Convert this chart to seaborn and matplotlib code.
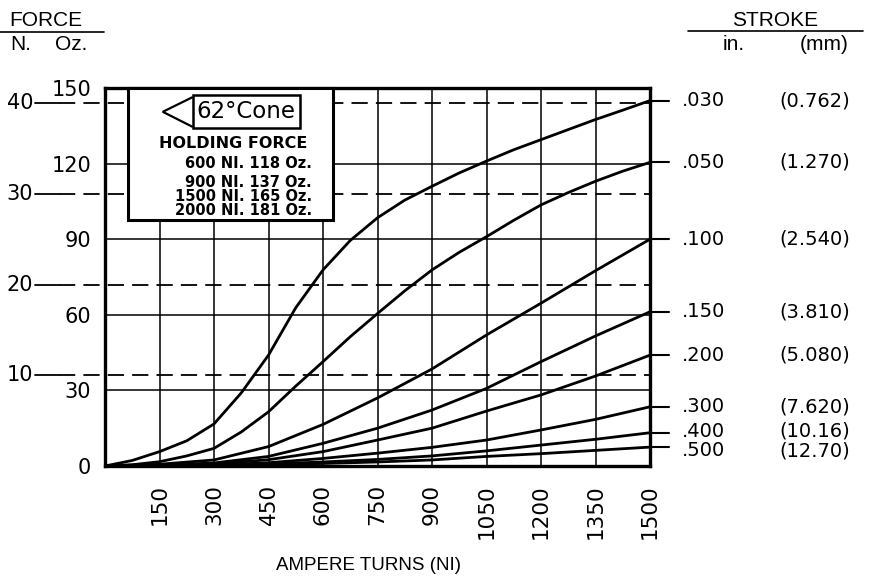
import numpy as np
import pandas as pd
import matplotlib
matplotlib.use("Agg")
import matplotlib.pyplot as plt
from matplotlib.patches import Rectangle, Polygon
from matplotlib.lines import Line2D
import seaborn as sns

# ---------------- data ----------------
ni_fine = [0, 75, 150, 225, 300, 375, 450, 525, 600, 675, 750, 825, 900, 975,
           1050, 1125, 1200, 1275, 1350, 1425, 1500]
ni_coarse = [0, 150, 300, 450, 600, 750, 900, 1050, 1200, 1350, 1500]

force_030 = [0, 2.2, 5.7, 10, 16.7, 29, 44, 62.8, 77.8, 89.5, 98.5, 105.5, 111,
             116.3, 121, 125.5, 129.5, 133.5, 137.5, 141.2, 145]
force_050 = [0, 0.5, 1.7, 4, 7, 13.5, 21.5, 31.7, 41.4, 51.3, 60.5, 69.5, 77.8,
             84.8, 91, 97.5, 103.6, 108.5, 113, 117, 120.5]
force_100 = [0, 0.7, 2.4, 7.7, 16.5, 27, 38.5, 52, 64.6, 77.5, 90]
force_150 = [0, 0.3, 1.2, 3.8, 9, 15, 22.2, 30.8, 41.4, 51.6, 61.2]
force_200 = [0, 0.2, 0.8, 2.5, 5.7, 10.3, 15, 21.8, 28.2, 35.7, 44]
force_300 = [0, 0.1, 0.4, 1.3, 3, 5.1, 7.4, 10.3, 14.3, 18.5, 23.5]
force_400 = [0, 0.05, 0.2, 0.8, 1.6, 2.6, 4.0, 6.0, 8.3, 10.6, 13.2]
force_500 = [0, 0.03, 0.15, 0.5, 1.0, 1.6, 2.4, 3.8, 4.9, 6.2, 7.5]

stroke_in = [".030", ".050", ".100", ".150", ".200", ".300", ".400", ".500"]
stroke_mm = ["(0.762)", "(1.270)", "(2.540)", "(3.810)", "(5.080)",
             "(7.620)", "(10.16)", "(12.70)"]

x_ticks = [150, 300, 450, 600, 750, 900, 1050, 1200, 1350, 1500]
oz_ticks = [0, 30, 60, 90, 120, 150]
newton_ticks = [10, 20, 30, 40]
OZ_PER_N = 3.5969

holding_ni = [600, 900, 1500, 2000]
holding_oz = [118, 137, 165, 181]

# ---------------- build long table ----------------
series = [
    (ni_fine, force_030), (ni_fine, force_050), (ni_coarse, force_100),
    (ni_coarse, force_150), (ni_coarse, force_200), (ni_coarse, force_300),
    (ni_coarse, force_400), (ni_coarse, force_500),
]
rows = []
for name, (xs, ys) in zip(stroke_in, series):
    for xv, yv in zip(xs, ys):
        rows.append({"NI": xv, "Oz": yv, "stroke": name})
df = pd.DataFrame(rows)

# ---------------- figure ----------------
sns.set_style("white")
plt.rcParams["font.family"] = ["DejaVu Sans"]
plt.rcParams["text.color"] = "black"
plt.rcParams["xtick.color"] = "black"
plt.rcParams["ytick.color"] = "black"
plt.rcParams["axes.labelcolor"] = "black"
W, H = 878, 578
fig = plt.figure(figsize=(W / 100, H / 100), dpi=100)
ax = fig.add_axes([105 / W, 1 - 466 / H, 545 / W, 378 / H])

sns.lineplot(data=df, x="NI", y="Oz", hue="stroke", palette=["black"] * 8,
             legend=False, linewidth=2.0, estimator=None, ax=ax, zorder=3)
for ln in ax.get_lines():
    ln.set_solid_joinstyle("round")

ax.set_xlim(0, 1500)
ax.set_ylim(0, 150)
ax.set_xticks(x_ticks)
ax.set_xticklabels([str(v) for v in x_ticks], rotation=90, fontsize=15.5)
ax.set_yticks(oz_ticks)
ax.set_yticklabels([str(v) for v in oz_ticks], fontsize=15)
ax.tick_params(axis="x", length=0, pad=13, labelcolor="black")
ax.tick_params(axis="y", length=0, pad=10, labelcolor="black")
ax.grid(True, color="black", linewidth=1.1)
ax.set_axisbelow(True)
ax.set_xlabel("")
ax.set_ylabel("")
for sp in ax.spines.values():
    sp.set_visible(True)
    sp.set_linewidth(2.4)
    sp.set_color("black")
    sp.set_zorder(6)

# Newton dashed reference lines with outer labels
ytr = ax.get_yaxis_transform()
for n in newton_ticks:
    yv = n * OZ_PER_N
    ax.plot([-0.128, -0.085], [yv, yv], transform=ytr, clip_on=False,
            color="black", lw=1.3, zorder=2)
    ax.plot([-0.085, 1.0], [yv, yv], transform=ytr, clip_on=False,
            color="black", lw=1.3, linestyle=(0, (9, 4.5)), zorder=2)
    ax.text(-0.132, yv, str(n), transform=ytr, ha="right", va="center",
            fontsize=15, color="black")

# Stroke labels at curve ends (right side)
label_nudge = [0, 0, 0, 0, 0, 0, 0.6, -1.4]
for name, mm, (xs, ys), dy in zip(stroke_in, stroke_mm, series, label_nudge):
    yv = ys[-1]
    ax.plot([1.0, 1.035], [yv, yv], transform=ytr, clip_on=False,
            color="black", lw=1.5)
    ax.text(1.059, yv + dy, name, transform=ytr, ha="left", va="center",
            fontsize=14, color="black")
    ax.text(1.303, yv + dy, mm, transform=ytr, ha="center", va="center",
            fontsize=14, color="black")

# Inset box with cone and holding force
box = Rectangle((0.042, 0.651), 0.376, 0.349, transform=ax.transAxes,
                facecolor="white", edgecolor="black", lw=2.2, zorder=7,
                clip_on=False)
ax.add_patch(box)
tri = Polygon([(0.161, 0.976), (0.106, 0.937), (0.161, 0.897)], closed=False,
              fill=False, edgecolor="black", lw=1.6, transform=ax.transAxes,
              zorder=8)
ax.add_patch(tri)
rect = Rectangle((0.161, 0.894), 0.197, 0.087, transform=ax.transAxes,
                 fill=False, edgecolor="black", lw=1.8, zorder=8)
ax.add_patch(rect)
ax.text(0.259, 0.937, "62°Cone", transform=ax.transAxes, ha="center",
        va="center", fontsize=16.5, zorder=9, color="black")
ax.text(0.235, 0.852, "HOLDING FORCE", transform=ax.transAxes, ha="center",
        va="center", fontsize=11.5, fontweight="bold", zorder=9, color="black")
for i, (hn, ho) in enumerate(zip(holding_ni, holding_oz)):
    yy = [0.799, 0.751, 0.712, 0.675][i]
    ax.text(0.380, yy, f"{hn} NI. {ho} Oz.", transform=ax.transAxes,
            ha="right", va="center", fontsize=10.5, fontweight="bold",
            zorder=9, color="black")

# Headers
def ftext(x, y, s, **kw):
    fig.text(x / W, 1 - y / H, s, color="black", **kw)

hdr = dict(family="Liberation Sans", fontsize=15, va="center")
ftext(46, 20, "FORCE", ha="center", **hdr)
ftext(10, 45, "N.", ha="left", **hdr)
ftext(55, 45, "Oz.", ha="left", **hdr)
ftext(775, 20, "STROKE", ha="center", **hdr)
ftext(734, 45, "in.", ha="center", **hdr)
ftext(824, 45, "(mm)", ha="center", **hdr)
fig.add_artist(Line2D([0, 104 / W], [1 - 32 / H] * 2, color="black", lw=1.2,
                      transform=fig.transFigure))
fig.add_artist(Line2D([688 / W, 863 / W], [1 - 31 / H] * 2, color="black",
                      lw=1.2, transform=fig.transFigure))
ftext(369, 565, "AMPERE TURNS (NI)", ha="center", family="Liberation Sans",
      fontsize=13.5, va="center")

fig.savefig("out.png", dpi=100)
